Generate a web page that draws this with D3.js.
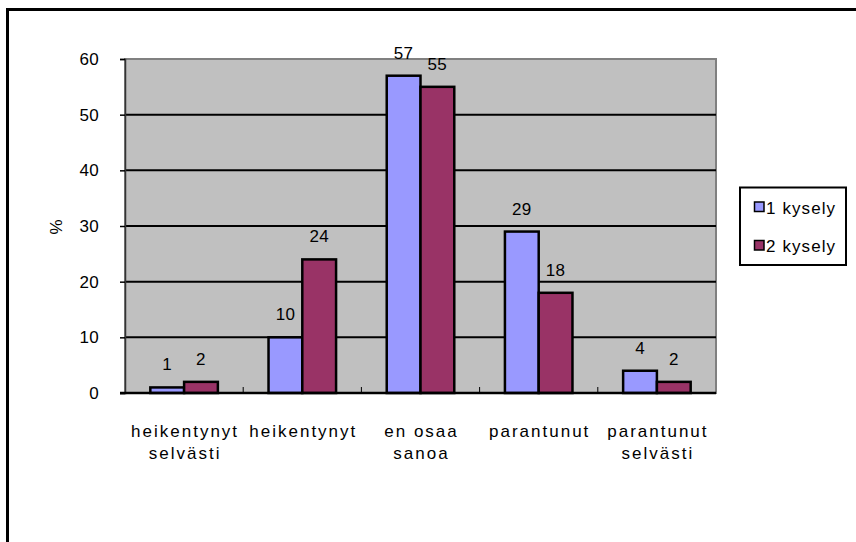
<!DOCTYPE html>
<html>
<head>
<meta charset="utf-8">
<script src="https://cdn.jsdelivr.net/npm/d3@7"></script>
<style>
  html, body { margin: 0; padding: 0; background: #fff; overflow: hidden; }
  svg { display: block; }
  text { font-family: "Liberation Sans", Arial, sans-serif; fill: #000; }
</style>
</head>
<body>
<svg id="chart" width="856" height="542"></svg>
<script>
// Survey answers: category labels (two lines each) and percentages per survey round
const categories = [
  ["heikentynyt", "selvästi"],
  ["heikentynyt"],
  ["en osaa", "sanoa"],
  ["parantunut"],
  ["parantunut", "selvästi"]
];
const seriesNames = ["1 kysely", "2 kysely"];
const kysely1 = [1, 10, 57, 29, 4];
const kysely2 = [2, 24, 55, 18, 2];
const yTicks = [0, 10, 20, 30, 40, 50, 60];
const seriesColors = ["#9999ff", "#993366"];

const FONT = '"Liberation Sans", Arial, sans-serif';
const FS = 17;

const svg = d3.select("#chart");
const plot = { left: 125, right: 716, top: 59, bottom: 393 };

// Outer chart frame (continues past the visible area)
svg.append("rect")
  .attr("x", 7.5).attr("y", 9.5)
  .attr("width", 1000).attr("height", 1000)
  .attr("fill", "none").attr("stroke", "#000").attr("stroke-width", 3);

const y = d3.scaleLinear().domain([0, 60]).range([plot.bottom, plot.top]);
const catIdx = categories.map((c, i) => i);
const x0 = d3.scaleBand().domain(catIdx).range([plot.left, plot.right]).padding(0);
const W = x0.bandwidth();
const barW = W / 3.5;
const x1 = d3.scaleBand().domain(seriesNames)
  .range([(W - 2 * barW) / 2, (W + 2 * barW) / 2]).padding(0);

// Plot area background
svg.append("rect")
  .attr("x", plot.left).attr("y", plot.top)
  .attr("width", plot.right - plot.left).attr("height", plot.bottom - plot.top)
  .attr("fill", "#c0c0c0").attr("stroke", "#808080").attr("stroke-width", 2);

// Horizontal gridlines
svg.append("g").selectAll("line")
  .data(yTicks.filter(t => t > 0 && t < 60))
  .join("line")
  .attr("x1", plot.left).attr("x2", plot.right)
  .attr("y1", d => y(d)).attr("y2", d => y(d))
  .attr("stroke", "#000").attr("stroke-width", 2);

// Y axis with tick labels
const yAxis = svg.append("g")
  .attr("transform", `translate(${plot.left},0)`)
  .call(d3.axisLeft(y).tickValues(yTicks).tickSize(5).tickPadding(21));
yAxis.select(".domain").attr("stroke", "#333").attr("stroke-width", 1.5);
yAxis.selectAll(".tick line").attr("stroke", "#000").attr("stroke-width", 1.5);
yAxis.selectAll(".tick text")
  .attr("font-size", FS).attr("letter-spacing", 0.3)
  .style("font-family", FONT).attr("fill", "#000");

// Y axis title
svg.append("text")
  .attr("transform", "translate(62,227) rotate(-90)")
  .attr("text-anchor", "middle")
  .attr("font-size", FS)
  .text("%");

// Bars
const data = catIdx.map(i => ({ i, values: [kysely1[i], kysely2[i]] }));
const groups = svg.append("g").selectAll("g")
  .data(data).join("g")
  .attr("transform", d => `translate(${x0(d.i)},0)`);

groups.selectAll("rect")
  .data(d => d.values.map((v, s) => ({ v, s })))
  .join("rect")
  .attr("x", d => x1(seriesNames[d.s]))
  .attr("width", x1.bandwidth())
  .attr("y", d => y(d.v))
  .attr("height", d => y(0) - y(d.v))
  .attr("fill", d => seriesColors[d.s])
  .attr("stroke", "#000").attr("stroke-width", 2.5);

// Value labels
groups.selectAll("text.val")
  .data(d => d.values.map((v, s) => ({ v, s })))
  .join("text")
  .attr("class", "val")
  .attr("x", d => x1(seriesNames[d.s]) + x1.bandwidth() / 2)
  .attr("y", d => y(d.v) - 17)
  .attr("text-anchor", "middle")
  .attr("font-size", FS).attr("letter-spacing", 0.3)
  .text(d => d.v);

// X axis line and category tick marks (pointing up into the plot)
svg.append("line")
  .attr("x1", plot.left - 5).attr("x2", plot.right)
  .attr("y1", plot.bottom).attr("y2", plot.bottom)
  .attr("stroke", "#000").attr("stroke-width", 2.5);
svg.append("g").selectAll("line")
  .data(catIdx.slice(1))
  .join("line")
  .attr("x1", d => x0(d)).attr("x2", d => x0(d))
  .attr("y1", plot.bottom).attr("y2", plot.bottom - 6)
  .attr("stroke", "#000").attr("stroke-width", 1);

// Category labels
const catLabels = svg.append("g").selectAll("text")
  .data(categories.map((lines, i) => ({ lines, i })))
  .join("text")
  .attr("text-anchor", "middle")
  .attr("font-size", FS).attr("letter-spacing", 2);
catLabels.selectAll("tspan")
  .data(d => d.lines.map((t, k) => ({ t, k, i: d.i })))
  .join("tspan")
  .attr("x", d => x0(d.i) + W / 2 + 1)
  .attr("y", d => 437 + d.k * 22)
  .text(d => d.t);

// Legend
const legend = svg.append("g");
legend.append("rect")
  .attr("x", 740).attr("y", 187.5).attr("width", 106).attr("height", 77.5)
  .attr("fill", "#fff").attr("stroke", "#000").attr("stroke-width", 2);
seriesNames.forEach((name, s) => {
  const yy = 202 + s * 38.5;
  legend.append("rect")
    .attr("x", 754.5).attr("y", yy).attr("width", 9.5).attr("height", 9.5)
    .attr("fill", seriesColors[s]).attr("stroke", "#000").attr("stroke-width", 1.5);
  legend.append("text")
    .attr("x", 766).attr("y", yy + 11.5)
    .attr("font-size", FS).attr("letter-spacing", 1.1)
    .text(name);
});
</script>
</body>
</html>
